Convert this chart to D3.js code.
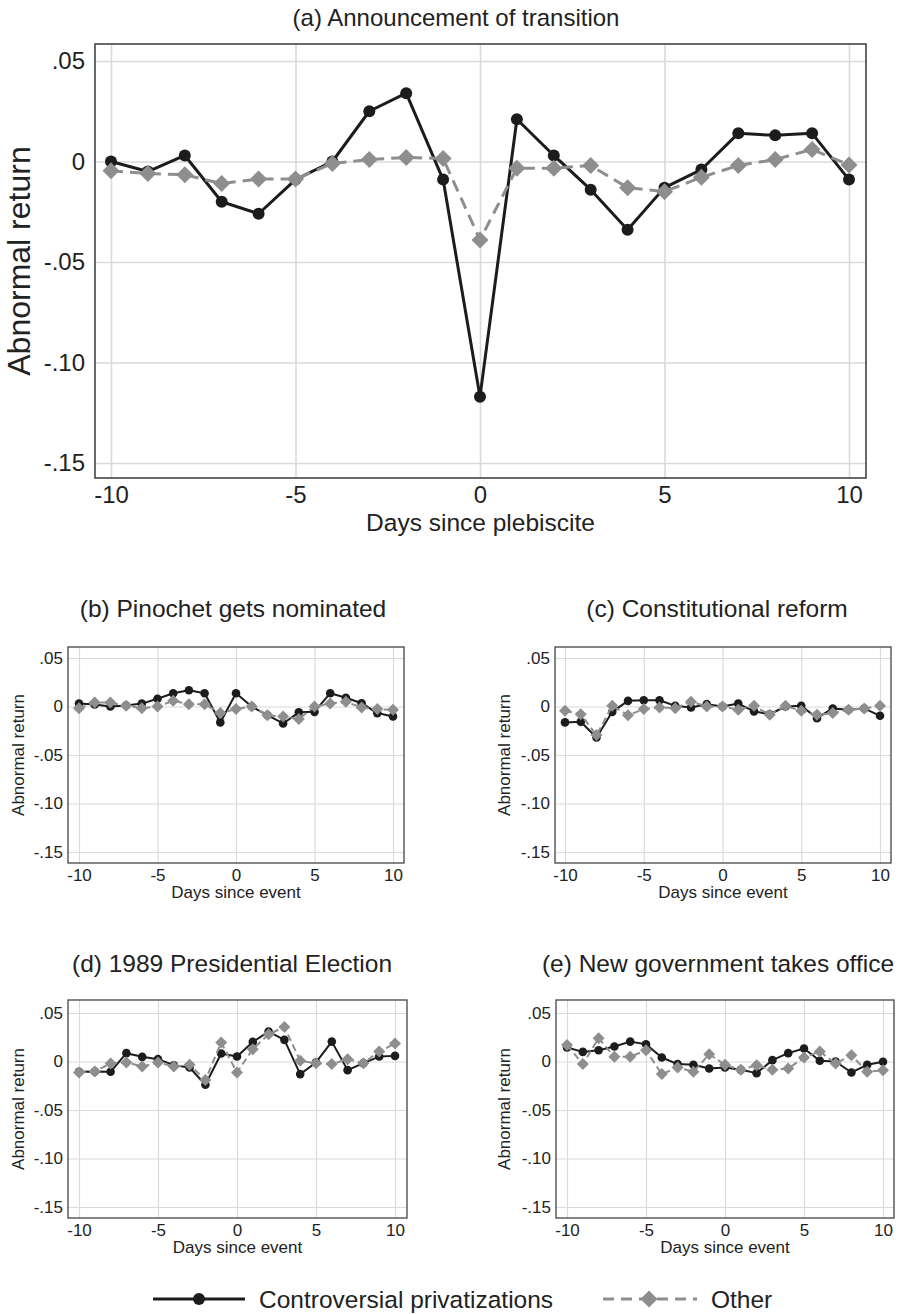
<!DOCTYPE html>
<html>
<head>
<meta charset="utf-8">
<script src="https://cdn.jsdelivr.net/npm/d3@7"></script>
<style>
  body { margin: 0; background: #fff; }
  svg { display: block; font-family: "Liberation Sans", Arial, sans-serif; }
  .grid line { stroke: #dadada; }
  .grid .domain { display: none; }
  .grid text { fill: #222; }
</style>
</head>
<body>
<div id="chart"></div>
<script>
// days relative to the event
const days = [-10,-9,-8,-7,-6,-5,-4,-3,-2,-1,0,1,2,3,4,5,6,7,8,9,10];

// (a) Announcement of transition
const aControversial = [0.000,-0.005,0.003,-0.020,-0.026,-0.009,0.000,0.025,0.034,-0.009,-0.117,0.021,0.003,-0.014,-0.034,-0.013,-0.004,0.014,0.013,0.014,-0.009];
const aOther = [-0.0046,-0.006,-0.0066,-0.011,-0.0087,-0.0087,-0.001,0.001,0.002,0.0015,-0.039,-0.0033,-0.0033,-0.002,-0.013,-0.015,-0.0078,-0.002,0.001,0.006,-0.0017];

// (b) Pinochet gets nominated
const bControversial = [0.003,0.002,0.000,0.001,0.003,0.008,0.0137,0.0168,0.0137,-0.0164,0.0137,0.000,-0.009,-0.0175,-0.006,-0.0055,0.0137,0.009,0.0034,-0.0068,-0.0103];
const bOther = [-0.0017,0.004,0.004,0.0007,-0.0017,0.000,0.0058,0.0024,0.0024,-0.0068,-0.0027,0.000,-0.009,-0.0103,-0.013,0.000,0.003,0.0048,-0.001,-0.0027,-0.0034];

// (c) Constitutional reform
const cControversial = [-0.0164,-0.0158,-0.032,-0.0055,0.0058,0.0065,0.0065,0.0007,-0.001,0.0024,0.000,0.003,-0.005,-0.008,0.000,0.0007,-0.012,-0.002,-0.0034,-0.002,-0.0096];
const cOther = [-0.0045,-0.008,-0.0295,0.0007,-0.009,-0.0027,-0.001,-0.0017,0.005,0.000,0.000,-0.0034,0.0007,-0.0086,0.0007,-0.0045,-0.0086,-0.0068,-0.0034,-0.002,0.0007];

// (d) 1989 Presidential Election
const dControversial = [-0.0106,-0.0103,-0.0106,0.0086,0.0048,0.0024,-0.0038,-0.0062,-0.024,0.0082,0.0051,0.0202,0.0308,0.0223,-0.013,-0.001,0.0205,-0.0089,-0.0017,0.0051,0.0058];
const dOther = [-0.0113,-0.0103,-0.002,-0.001,-0.0051,-0.001,-0.0051,-0.0034,-0.019,0.0195,-0.0113,0.0127,0.028,0.0356,0.0007,-0.0017,-0.0027,0.0024,-0.0017,0.0103,0.0185];

// (e) New government takes office
const eControversial = [0.0144,0.0099,0.0116,0.0154,0.0205,0.0178,0.0041,-0.0027,-0.0034,-0.0072,-0.0062,-0.0086,-0.012,0.0014,0.0086,0.0134,0.0007,0.000,-0.0113,-0.0034,-0.0003];
const eOther = [0.0171,-0.0027,0.024,0.0048,0.0048,0.0116,-0.013,-0.0062,-0.0106,0.0075,-0.0034,-0.0086,-0.0038,-0.0086,-0.0072,0.0041,0.0103,-0.002,0.0065,-0.0106,-0.0089];

const xTicks = [-10,-5,0,5,10];
const yTicks = [0.05,0,-0.05,-0.10,-0.15];
const yTickLabels = [".05","0","-.05","-.10","-.15"];
const seriesNames = ["Controversial privatizations","Other"];

const black = "#1c1c1c", gray = "#8e8e8e";

const W = 899, H = 1314;
const svg = d3.select("#chart").append("svg").attr("width", W).attr("height", H);

// big = panel a, small = b..e
const big = {title: 24, tick: 24, xTitle: 24.5, yTitle: 32, pad: 10, xPad: 8, r: 6, dia: 8.5, lw: 3, grid: 1.6, dash: "12,7", xtOff: 53};
const small = {title: 24.5, tick: 17, xTitle: 17, yTitle: 17, pad: 5, xPad: 6, r: 4.3, dia: 6, lw: 2, grid: 1.2, dash: "7,4", xtOff: 35};

const panels = [
  {title: "(a) Announcement of transition", tx: 456, ty: 26, xTitle: "Days since plebiscite", s: big,
   f: [95, 866, 44, 478], x0: 111, x1: 849, y0: 61, y1: 463, c: aControversial, o: aOther, ytX: 19},
  {title: "(b) Pinochet gets nominated", tx: 233, ty: 617, xTitle: "Days since event", s: small,
   f: [68, 404, 647, 863], x0: 79, x1: 393, y0: 658, y1: 852, c: bControversial, o: bOther, ytX: 18},
  {title: "(c) Constitutional reform", tx: 717, ty: 617, xTitle: "Days since event", s: small,
   f: [555, 891, 647, 863], x0: 565, x1: 880, y0: 658, y1: 852, c: cControversial, o: cOther, ytX: 504},
  {title: "(d) 1989 Presidential Election", tx: 232, ty: 972, xTitle: "Days since event", s: small,
   f: [68, 407, 1000, 1218], x0: 79, x1: 395, y0: 1013, y1: 1207, c: dControversial, o: dOther, ytX: 18},
  {title: "(e) New government takes office", tx: 718, ty: 972, xTitle: "Days since event", s: small,
   f: [556, 894, 1000, 1218], x0: 567, x1: 883, y0: 1013, y1: 1207, c: eControversial, o: eOther, ytX: 504}
];

function diamond(h) {
  return `M0,${-h}L${h},0L0,${h}L${-h},0Z`;
}

panels.forEach(p => {
  const s = p.s;
  const [L, R, T, B] = p.f;
  const x = d3.scaleLinear().domain([-10, 10]).range([p.x0, p.x1]);
  const y = d3.scaleLinear().domain([0.05, -0.15]).range([p.y0, p.y1]);
  const g = svg.append("g");

  // title
  g.append("text").attr("x", p.tx).attr("y", p.ty).attr("text-anchor", "middle")
    .attr("font-size", s.title).attr("fill", "#222").text(p.title);

  // gridlines + tick labels through the axes
  const yAxis = d3.axisLeft(y).tickValues(yTicks)
    .tickFormat((d, i) => yTickLabels[i]).tickSizeInner(-(R - L)).tickSizeOuter(0).tickPadding(s.pad);
  g.append("g").attr("class", "grid").attr("transform", `translate(${L},0)`).call(yAxis)
    .call(a => a.selectAll("line").attr("stroke-width", s.grid))
    .call(a => a.selectAll("text").attr("font-size", s.tick));

  const xAxis = d3.axisBottom(x).tickValues(xTicks).tickFormat(d => String(d))
    .tickSizeInner(-(B - T)).tickSizeOuter(0).tickPadding(s.xPad);
  g.append("g").attr("class", "grid").attr("transform", `translate(0,${B})`).call(xAxis)
    .call(a => a.selectAll("line").attr("stroke-width", s.grid))
    .call(a => a.selectAll("text").attr("font-size", s.tick));

  // frame
  g.append("rect").attr("x", L).attr("y", T).attr("width", R - L).attr("height", B - T)
    .attr("fill", "none").attr("stroke", "#444").attr("stroke-width", s === big ? 1.6 : 1.3);

  // axis titles
  g.append("text").attr("x", (L + R) / 2).attr("y", B + s.xtOff).attr("text-anchor", "middle")
    .attr("font-size", s.xTitle).attr("fill", "#222").text(p.xTitle);
  g.append("text").attr("transform", `translate(${p.ytX},${(T + B) / 2}) rotate(-90)`)
    .attr("text-anchor", "middle").attr("dy", "0.35em")
    .attr("font-size", s.yTitle).attr("fill", "#222").text("Abnormal return");

  const line = d3.line().x((d, i) => x(days[i])).y(d => y(d));

  // controversial: solid black with dots
  g.append("path").datum(p.c).attr("d", line).attr("fill", "none")
    .attr("stroke", black).attr("stroke-width", s.lw).attr("stroke-linejoin", "round");
  g.selectAll(".dot").data(p.c).enter().append("circle")
    .attr("cx", (d, i) => x(days[i])).attr("cy", d => y(d)).attr("r", s.r).attr("fill", black);

  // other: dashed gray with diamonds
  g.append("path").datum(p.o).attr("d", line).attr("fill", "none")
    .attr("stroke", gray).attr("stroke-width", s.lw).attr("stroke-dasharray", s.dash);
  g.selectAll(".dia").data(p.o).enter().append("path")
    .attr("d", diamond(s.dia))
    .attr("transform", (d, i) => `translate(${x(days[i])},${y(d)})`).attr("fill", gray);
});

// legend
const lg = svg.append("g").attr("transform", "translate(0,1299)");
lg.append("line").attr("x1", 153).attr("x2", 245).attr("stroke", black).attr("stroke-width", 3);
lg.append("circle").attr("cx", 199).attr("r", 6).attr("fill", black);
lg.append("text").attr("x", 259).attr("dy", "0.36em").attr("font-size", 24.5).attr("fill", "#222").text(seriesNames[0]);
lg.append("line").attr("x1", 603).attr("x2", 697).attr("stroke", gray).attr("stroke-width", 3).attr("stroke-dasharray", "11,7");
lg.append("path").attr("d", diamond(8.5)).attr("transform", "translate(649,0)").attr("fill", gray);
lg.append("text").attr("x", 711).attr("dy", "0.36em").attr("font-size", 24.5).attr("fill", "#222").text(seriesNames[1]);
</script>
</body>
</html>
